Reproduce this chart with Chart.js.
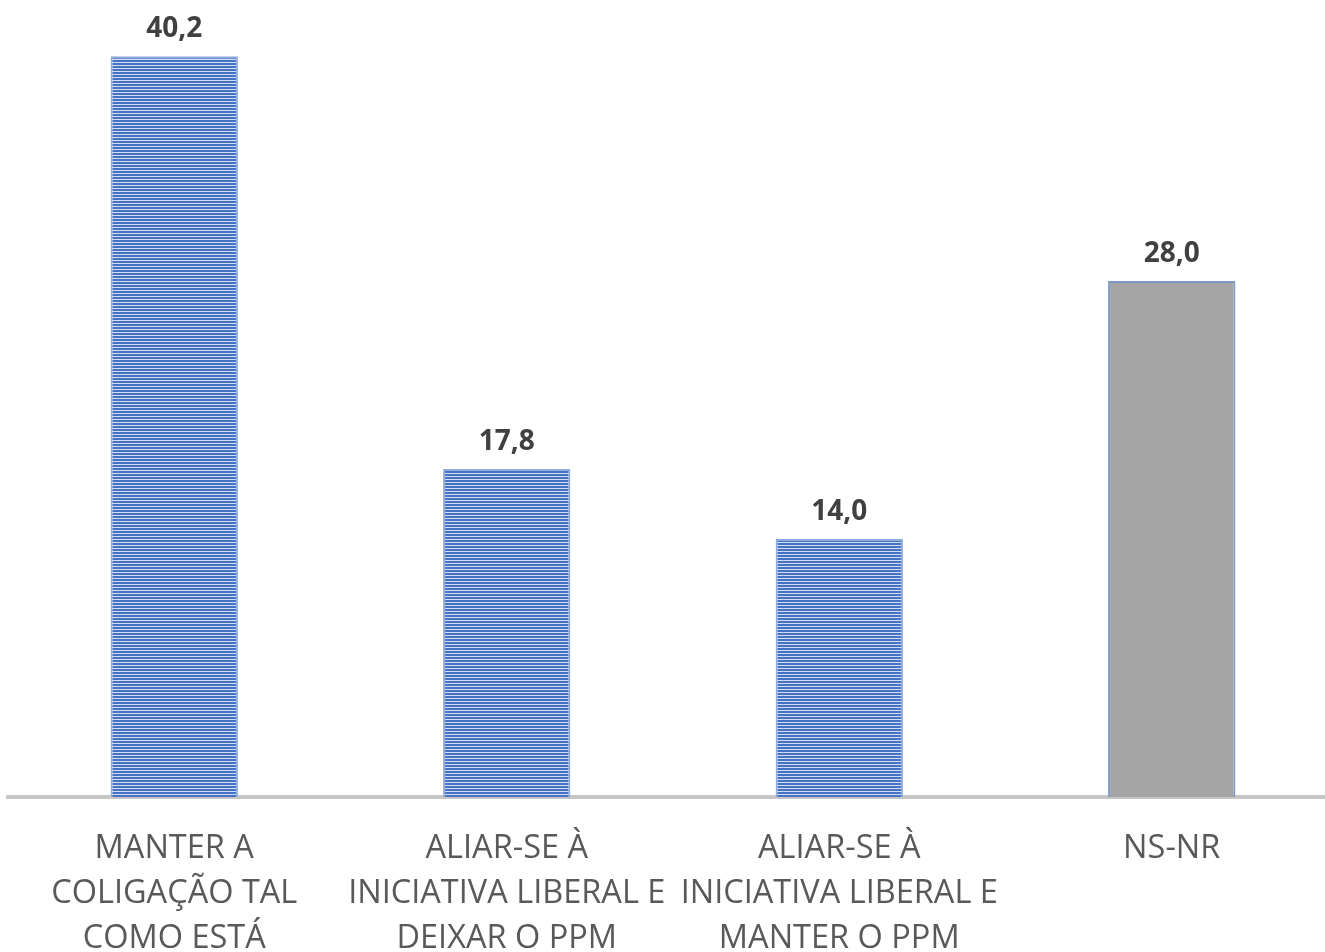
<!DOCTYPE html>
<html>
<head>
<meta charset="utf-8">
<script src="https://cdn.jsdelivr.net/npm/chart.js@4"></script>
<style>
html,body{margin:0;padding:0;background:#fff;overflow:hidden;}
#wrap{width:1340px;height:952px;}
</style>
</head>
<body>
<div id="wrap"><canvas id="c" width="1340" height="952"></canvas></div>
<script>
const categories = [
  ["MANTER A", "COLIGAÇÃO TAL", "COMO ESTÁ"],
  ["ALIAR-SE À", "INICIATIVA LIBERAL E", "DEIXAR O PPM"],
  ["ALIAR-SE À", "INICIATIVA LIBERAL E", "MANTER O PPM"],
  ["NS-NR"]
];
const values = [40.2, 17.8, 14.0, 28.0];
const valueLabels = ["40,2", "17,8", "14,0", "28,0"];

function stripePattern() {
  const c = document.createElement('canvas');
  c.width = 4; c.height = 3;
  const g = c.getContext('2d');
  g.fillStyle = '#4472C4'; g.fillRect(0, 0, 4, 2);
  g.fillStyle = '#d3ddf1'; g.fillRect(0, 2, 4, 1);
  return g.createPattern(c, 'repeat');
}
const ctx = document.getElementById('c').getContext('2d');
const pat = stripePattern();
const fills = [pat, pat, pat, '#A5A5A5'];

const labelPlugin = {
  id: 'valueLabels',
  afterDatasetsDraw(chart) {
    const meta = chart.getDatasetMeta(0);
    const g = chart.ctx;
    g.save();
    g.font = 'bold 28px "Open Sans"';
    g.fillStyle = '#404040';
    g.textAlign = 'center';
    g.textBaseline = 'middle';
    meta.data.forEach((bar, i) => {
      g.fillText(valueLabels[i], bar.x, bar.y - 27);
    });
    g.restore();
  }
};

new Chart(ctx, {
  type: 'bar',
  data: {
    labels: categories,
    datasets: [{
      data: values,
      backgroundColor: fills,
      borderColor: ['#8faadc', '#8faadc', '#8faadc', '#7f96c8'],
      borderWidth: 2,
      borderSkipped: 'bottom',
      barPercentage: 0.383,
      categoryPercentage: 1.0
    }]
  },
  options: {
    responsive: false,
    animation: false,
    events: [],
    layout: { padding: { top: 23, left: 8, right: 2, bottom: 0 } },
    plugins: { legend: { display: false }, tooltip: { enabled: false } },
    scales: {
      x: {
        grid: { display: false, drawTicks: false },
        border: { display: true, color: '#c6c6c6', width: 4 },
        ticks: {
          color: '#595959',
          font: { family: '"Open Sans"', size: 32.5, lineHeight: 1.385 },
          padding: 29,
          maxRotation: 0,
          autoSkip: false
        },
        afterFit: (s) => { s.height = 155; }
      },
      y: {
        display: false,
        min: 0,
        max: 42
      }
    }
  },
  plugins: [labelPlugin]
});
</script>
</body>
</html>
